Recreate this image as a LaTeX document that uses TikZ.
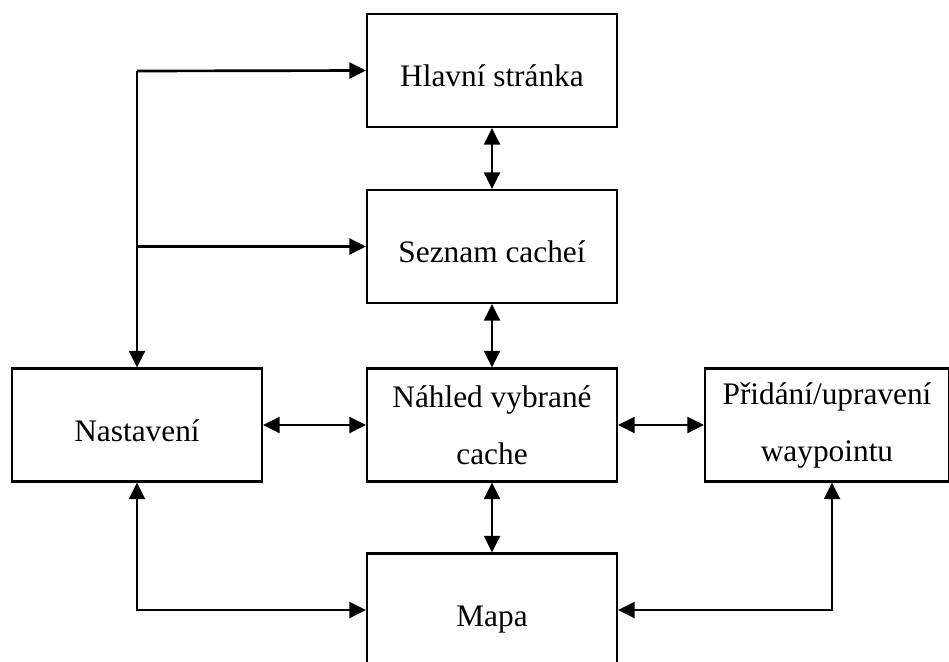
\documentclass[tikz,border=0pt]{standalone}
\usepackage{fontspec}
\setmainfont{Liberation Serif}
\usetikzlibrary{arrows.meta}

\tikzset{every picture/.style={line width=0.75pt}}
\tikzset{
  screen/.style={draw, line width=1.6pt, minimum width=187.5pt, minimum height=84.75pt,
    inner sep=0pt, align=center, font=\fontsize{23.5}{42.75}\selectfont},
  oneline/.style={text height=24pt, text depth=0pt},
  link/.style={line width=2pt, >={Triangle[length=12.5pt,width=12pt]}}
}

\begin{document}
\begin{tikzpicture}[x=0.75pt,y=0.75pt,yscale=-1,xscale=1]
\useasboundingbox (0,0) rectangle (949,661);

% Screens
\node [screen, oneline] (hlavni) at (492,70.5) {Hlavní stránka};
\node [screen, oneline] (seznam) at (492,246.5) {Seznam cacheí};
\node [screen] (nahled) at (492,425) {Náhled vybrané\\cache};
\node [screen, oneline] (nastaveni) at (137,425) {Nastavení};
\node [screen, minimum width=183pt] (pridani) at (827,425) {Přidání/upravení\\waypointu};
\node [screen, oneline] (mapa) at (492,610) {Mapa};

% Corners
\coordinate (rozcesti) at (137,71);
\coordinate (vpravo) at (832,610);

%Straight Lines
\draw [link, ->] (rozcesti) -- (hlavni.west);
\draw [link, ->] (rozcesti |- seznam.west) -- (seznam.west);
\draw [link, ->] (rozcesti) -- (nastaveni.north);
%Straight Lines
\draw [link, <->] (hlavni.south) -- (seznam.north);
\draw [link, <->] (seznam.south) -- (nahled.north);
\draw [link, <->] (nahled.south) -- (mapa.north);
\draw [link, <->] (nastaveni.east) -- (nahled.west);
\draw [link, <->] (nahled.east) -- (pridani.west);
%Straight Lines
\draw [link, <->] (nastaveni.south) |- (mapa.west);
\draw [link, <->] (pridani.south -| vpravo) |- (mapa.east);

\end{tikzpicture}
\end{document}
